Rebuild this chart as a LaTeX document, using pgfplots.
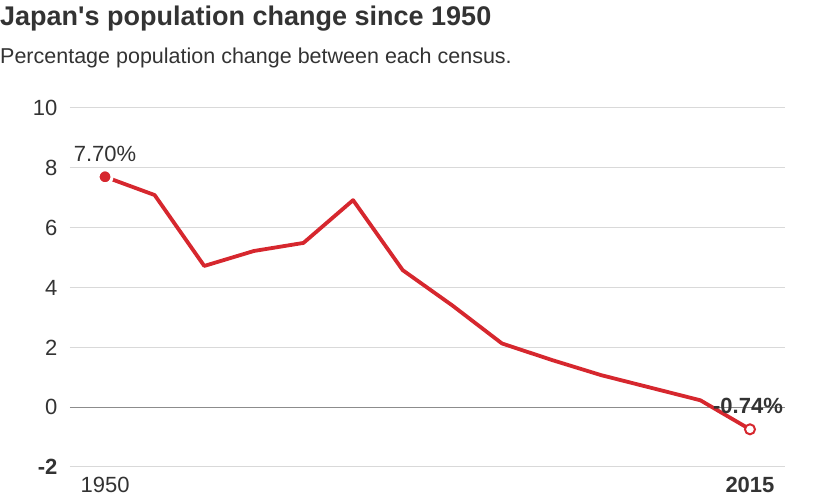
\documentclass[border=0pt]{standalone}
\usepackage{pgfplots}
\pgfplotsset{compat=1.18}
\usepackage{fontspec}
\setmainfont{Liberation Sans}
\definecolor{wpred}{RGB}{214,39,46}
\definecolor{txt}{RGB}{51,51,51}
\definecolor{gridc}{RGB}{217,217,217}

\begin{document}
\begin{tikzpicture}[x=1pt,y=1pt]
  \useasboundingbox (-70,-30) rectangle (745,467);
  \begin{axis}[
      at={(0,0)}, anchor=south west,
      scale only axis,
      width=715pt, height=359pt,
      xmin=1946.47, xmax=2018.53,
      ymin=-2, ymax=10,
      axis line style={draw=none},
      ytick={-2,0,2,4,6,8,10},
      yticklabels={\textbf{-2},0,2,4,6,8,10},
      xtick={1950,2015},
      xticklabels={1950,\textbf{2015}},
      ymajorgrids,
      grid style={gridc, line width=1pt},
      major tick length=0pt,
      tick label style={font=\fontsize{22}{24}\selectfont, text=txt},
      yticklabel style={anchor=east, xshift=-9pt},
      xticklabel style={anchor=north, yshift=-7pt},
      /pgf/number format/assume math mode=true,
      extra y ticks={0},
      extra y tick labels={},
      extra y tick style={grid style={black!45, line width=1.3pt}},
      clip=false,
    ]
    \addplot[wpred, line width=3.8pt, line join=round] coordinates {
      (1950,7.70) (1955,7.09) (1960,4.72) (1965,5.22) (1970,5.49)
      (1975,6.92) (1980,4.58) (1985,3.40) (1990,2.13) (1995,1.58)
      (2000,1.07) (2005,0.65) (2010,0.23) (2015,-0.74)
    };
    \addplot[only marks, mark=*, mark size=7pt,
      mark options={fill=wpred, draw=white, line width=3pt}]
      coordinates {(1950,7.70)};
    \addplot[only marks, mark=*, mark size=5pt,
      mark options={fill=white, draw=wpred, line width=2pt}]
      coordinates {(2015,-0.74)};
    \node[anchor=base, text=txt, font=\fontsize{22}{24}\selectfont]
      at (axis cs:1950,8.2) {7.70\%};
    \node[anchor=base, text=txt, font=\bfseries\fontsize{22}{24}\selectfont,
      inner sep=1pt]
      at (axis cs:2014.8,-0.2) {-0.74\%};
  \end{axis}
  \node[anchor=base west, text=txt, inner sep=0pt, font=\bfseries\fontsize{27}{30}\selectfont]
    at (-70,441) {Japan\textquotesingle s population change since 1950};
  \node[anchor=base west, text=txt, inner sep=0pt, font=\fontsize{21.5}{26}\selectfont]
    at (-70,403) {Percentage population change between each census.};
\end{tikzpicture}
\end{document}
